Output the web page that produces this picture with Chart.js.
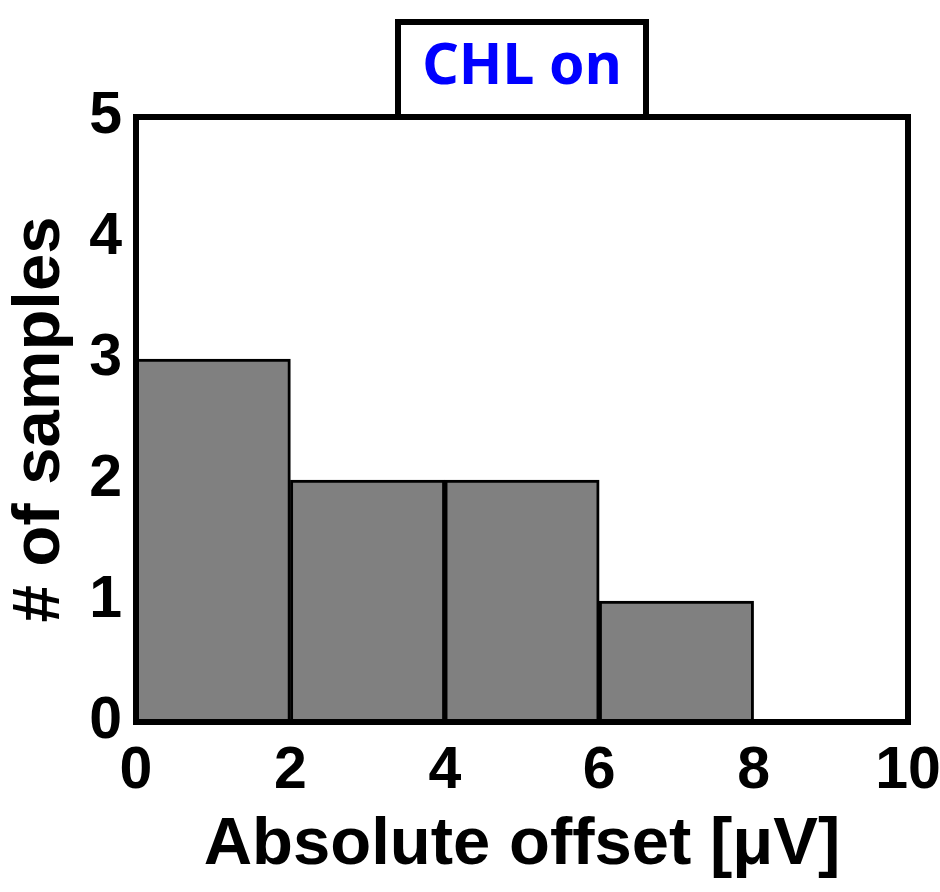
<!DOCTYPE html>
<html>
<head>
<meta charset="utf-8">
<script src="https://cdn.jsdelivr.net/npm/chart.js@4.4.1/dist/chart.umd.min.js"></script>
<style>
  html, body { margin: 0; padding: 0; background: #fff; }
  canvas { display: block; }
</style>
</head>
<body>
<canvas id="hist" width="940" height="892"></canvas>
<script>
// histogram bins (left edges, width 2 µV) and counts
const binStarts = [0, 2, 4, 6, 8];
const binWidth = 2;
const counts = [3, 2, 2, 1, 0];
const xTicks = [0, 2, 4, 6, 8, 10];
const yTicks = [0, 1, 2, 3, 4, 5];

const axisFont = { family: 'Liberation Sans', weight: 'bold', size: 59 };
const titleFont = { family: 'Liberation Sans', weight: 'bold', size: 67, lineHeight: 1 };

// black frame round the plot and the box round the title
const framePlugin = {
  id: 'frame',
  afterDraw(chart) {
    const { ctx, chartArea: a } = chart;
    ctx.save();
    ctx.strokeStyle = '#000';
    ctx.lineWidth = 6;
    ctx.strokeRect(a.left, a.top, a.right - a.left, a.bottom - a.top);
    const cx = (a.left + a.right) / 2;
    ctx.strokeRect(cx - 124, 22, 248, a.top - 22);
    ctx.restore();
  }
};

new Chart(document.getElementById('hist'), {
  type: 'bar',
  data: {
    datasets: [{
      data: binStarts.map((s, i) => ({ x: s + binWidth / 2, y: counts[i] })),
      backgroundColor: '#808080',
      borderColor: '#000',
      borderWidth: 3,
      borderSkipped: false,
      barPercentage: 1,
      categoryPercentage: 1
    }]
  },
  options: {
    responsive: false,
    devicePixelRatio: 1,
    animation: false,
    layout: { padding: { left: 0, right: 32, top: 0, bottom: 0 } },
    plugins: {
      legend: { display: false },
      tooltip: { enabled: false },
      title: {
        display: true,
        text: 'CHL on',
        color: '#0000ff',
        fullSize: false,
        font: { family: 'Noto Sans', weight: 'bold', size: 57, lineHeight: 1 },
        padding: { top: 39, bottom: 21 }
      }
    },
    scales: {
      x: {
        type: 'linear',
        min: 0,
        max: 10,
        offset: false,
        afterBuildTicks: s => { s.ticks = xTicks.map(v => ({ value: v })); },
        afterFit: s => { s.height = 170; s.paddingLeft = 0; s.paddingRight = 0; },
        grid: { display: false },
        border: { display: false },
        ticks: { color: '#000', font: axisFont, padding: 6, maxRotation: 0 },
        title: {
          display: true,
          text: 'Absolute offset [μV]',
          color: '#000',
          font: titleFont,
          padding: { top: 0, bottom: 13 }
        }
      },
      y: {
        min: 0,
        max: 5,
        afterBuildTicks: s => { s.ticks = yTicks.map(v => ({ value: v })); },
        afterFit: s => { s.width = 136; s.paddingTop = 0; s.paddingBottom = 0; },
        grid: { display: false },
        border: { display: false },
        ticks: { color: '#000', font: axisFont, padding: 6 },
        title: {
          display: true,
          text: '# of samples',
          color: '#000',
          font: titleFont,
          padding: { top: 7, bottom: 0 }
        }
      }
    }
  },
  plugins: [framePlugin]
});
</script>
</body>
</html>
